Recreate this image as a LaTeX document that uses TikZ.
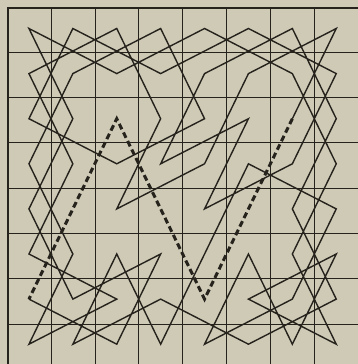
\documentclass[tikz,border=0pt]{standalone}
\definecolor{bg}{RGB}{206,202,182}
\definecolor{ink}{RGB}{38,34,28}
\begin{document}
\begin{tikzpicture}[x=1pt,y=-1pt,
  gridline/.style={draw=ink,line width=1.5pt},
  borderline/.style={draw=ink,line width=2pt},
  tour/.style={draw=ink,line width=1.4pt,line join=miter},
  dashtour/.style={draw=ink,line width=3pt,dash pattern=on 6pt off 3.5pt}]
\useasboundingbox (0,0) rectangle (358,364);
\fill[bg] (0,0) rectangle (358,364);
\begin{scope}
\clip (0,0) rectangle (358,364);
\foreach \xx in {51.5,95.5,138.5,182.5,226.5,270.5,314.5,358.5} {
  \draw[gridline] (\xx,7) -- (\xx,370);
}
\foreach \yy in {52.5,97.5,142.5,188.5,233.5,278.5,324.5,369.5} {
  \draw[gridline] (7,\yy) -- (359,\yy);
}
\draw[borderline] (7.5,370) -- (7.5,7.5) -- (359,7.5);
\end{scope}
\foreach \c in {0,...,7} {
  \foreach \r in {0,...,7} {
    \coordinate (p\c\r) at ({28.95+43.9*\c},{28.5+45.1*\r});
  }
}
\draw[tour] (p06) -- (p27) -- (p35) -- (p16) -- (p04) -- (p12) -- (p00) -- (p21)
  -- (p40) -- (p61) -- (p73) -- (p65) -- (p77) -- (p56) -- (p75) -- (p67)
  -- (p55) -- (p47) -- (p66) -- (p74) -- (p53) -- (p45) -- (p37) -- (p25)
  -- (p17) -- (p36) -- (p57) -- (p76) -- (p64) -- (p72) -- (p60) -- (p41)
  -- (p33) -- (p52) -- (p44) -- (p63) -- (p71) -- (p50) -- (p31) -- (p10)
  -- (p02) -- (p23) -- (p42) -- (p30) -- (p11) -- (p03) -- (p15) -- (p07)
  -- (p26) -- (p05) -- (p13) -- (p01) -- (p20) -- (p32) -- (p24) -- (p43)
  -- (p51) -- (p70) -- (p62);
\draw[dashtour] (p62) -- (p54) -- (p46) -- (p34) -- (p22) -- (p14) -- (p06);
\end{tikzpicture}
\end{document}
